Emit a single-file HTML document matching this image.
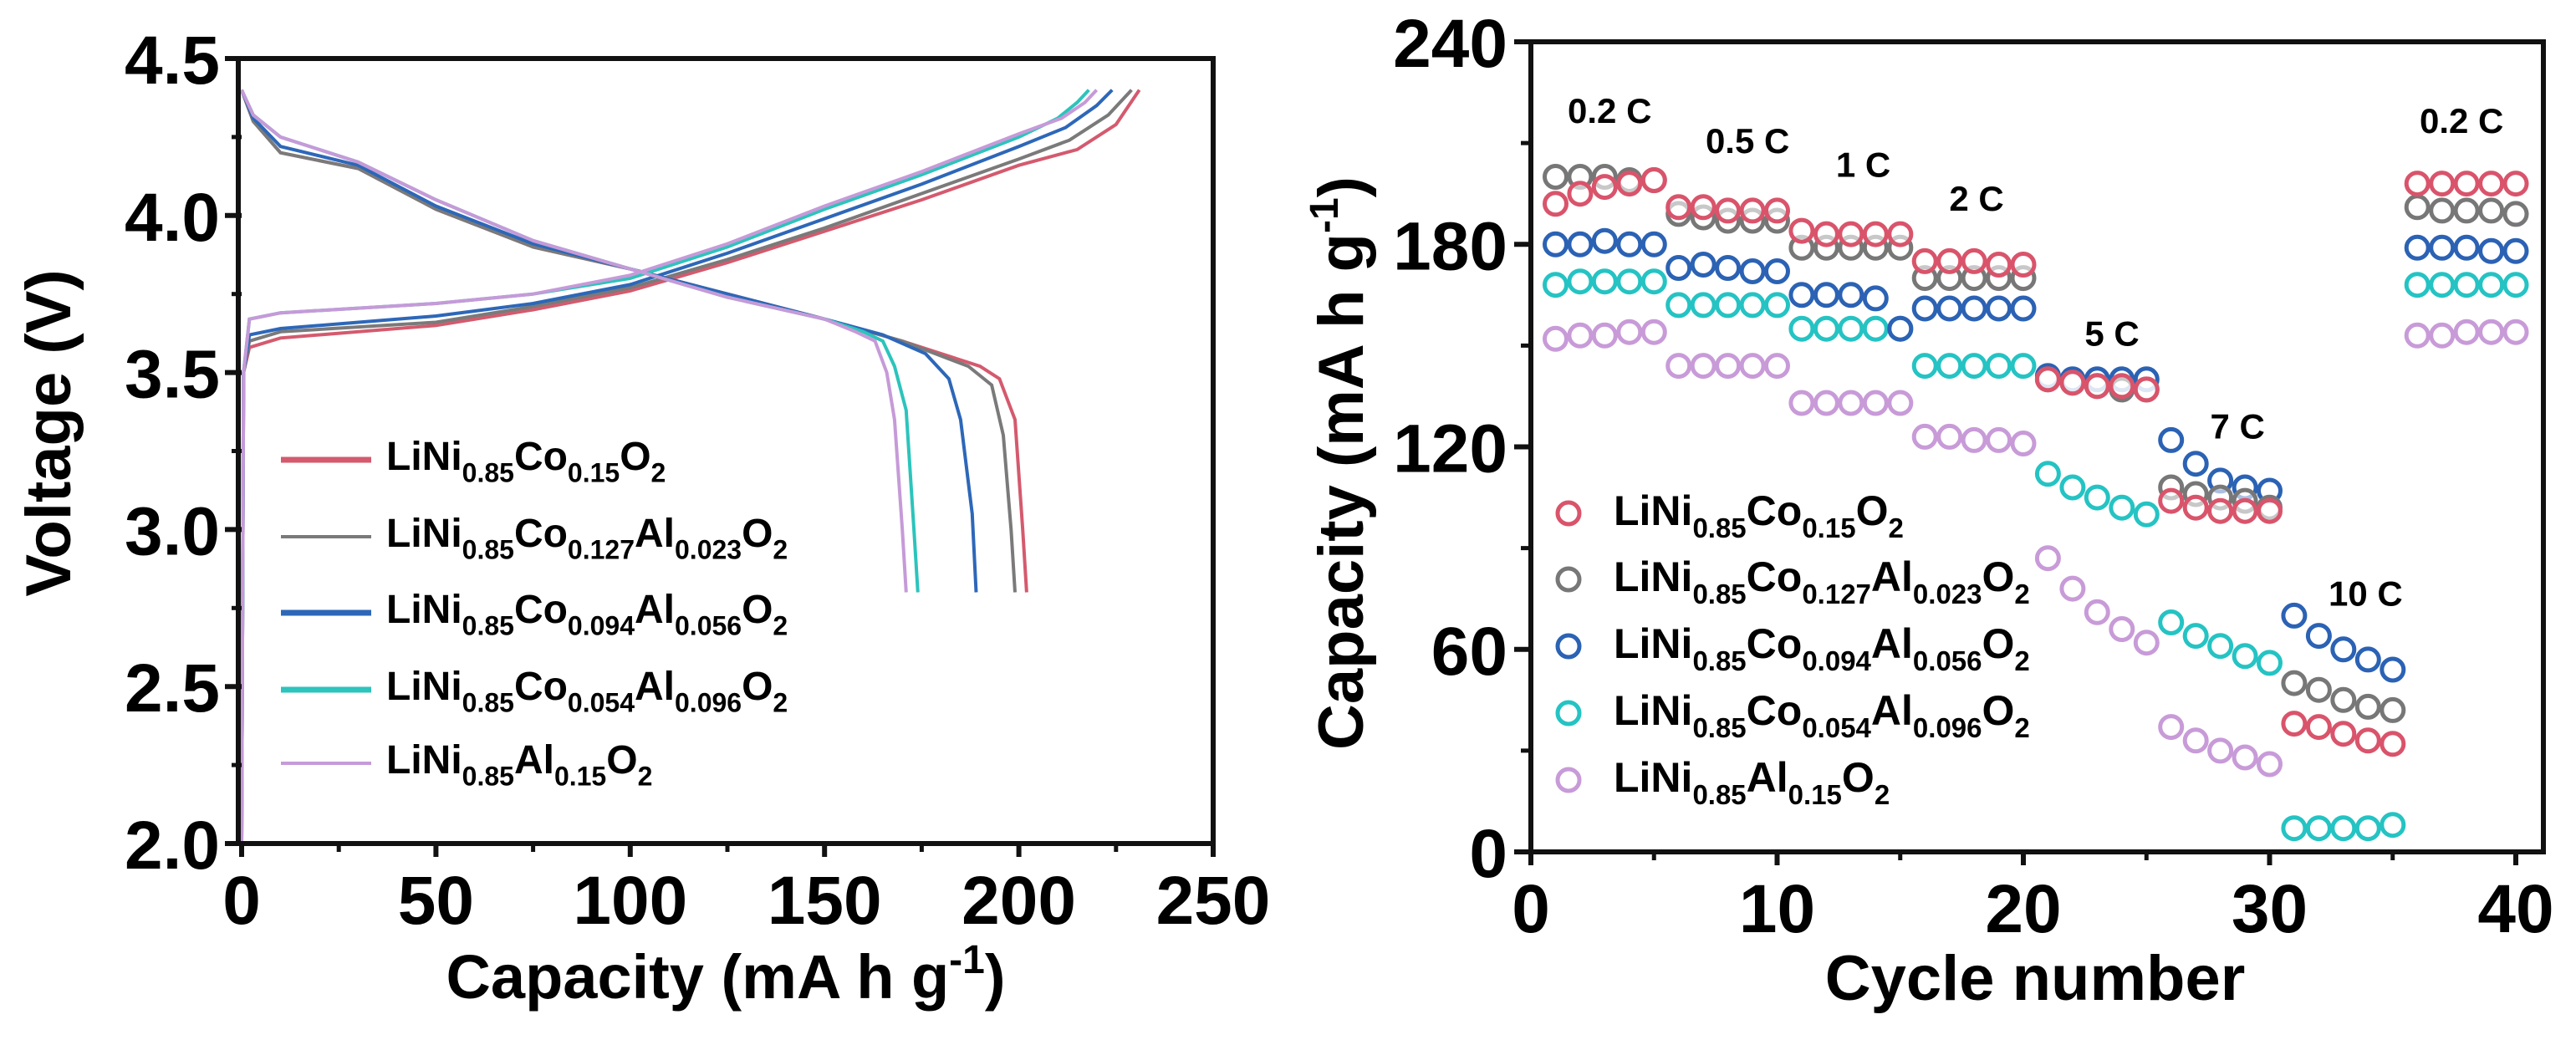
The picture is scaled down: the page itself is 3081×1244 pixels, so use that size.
<!DOCTYPE html>
<html><head><meta charset="utf-8"><style>
html,body{margin:0;padding:0;background:#fff;}
svg{display:block;font-family:"Liberation Sans",Arial,sans-serif;font-weight:bold;}
</style></head><body>
<svg id="fig" width="3081" height="1244" viewBox="0 0 3081 1244" xmlns="http://www.w3.org/2000/svg">
<g id="left"></g>
<g id="right"></g>
</svg>
<script>
// ---------- data: left chart ----------
const seriesNames = ["LiNi0.85Co0.15O2","LiNi0.85Co0.127Al0.023O2","LiNi0.85Co0.094Al0.056O2","LiNi0.85Co0.054Al0.096O2","LiNi0.85Al0.15O2"];
const lineColors = ["#d45a6e","#7a7a7a","#2d67b8","#2cc4bc","#c69ad8"];
const chargeCap = [
 [0,0.5,2,10,50,75,100,125,150,175,200,215,225,231],
 [0,0.5,2,10,50,75,100,125,150,175,200,213,223,229],
 [0,0.5,2,10,50,75,100,125,150,175,200,212,220,224],
 [0,0.5,2,10,50,75,100,125,150,175,200,210,215,218],
 [0,0.5,2,10,50,75,100,125,150,175,200,211,217,220]];
const chargeV = [
 [2.0,3.5,3.58,3.61,3.65,3.7,3.76,3.85,3.95,4.05,4.16,4.21,4.29,4.4],
 [2.0,3.5,3.6,3.63,3.66,3.71,3.77,3.86,3.96,4.07,4.18,4.24,4.32,4.4],
 [2.0,3.5,3.62,3.64,3.68,3.72,3.78,3.88,3.99,4.1,4.22,4.28,4.35,4.4],
 [2.0,3.5,3.67,3.69,3.72,3.75,3.8,3.9,4.02,4.13,4.25,4.31,4.36,4.4],
 [2.0,3.5,3.67,3.69,3.72,3.75,3.81,3.91,4.03,4.14,4.26,4.31,4.36,4.4]];
const dischargeCap = [
 [0,3,10,30,50,75,100,125,150,170,190,195,199,201,202],
 [0,3,10,30,50,75,100,125,150,170,187,193,196,198,199],
 [0,3,10,30,50,75,100,125,150,165,176,182,185,188,189],
 [0,3,10,30,50,75,100,125,150,160,165,168,171,173,174],
 [0,3,10,30,50,75,100,125,150,158,163,166,168,170,171]];
const dischargeV = [
 [4.4,4.3,4.2,4.15,4.02,3.9,3.83,3.75,3.67,3.6,3.52,3.48,3.35,3.0,2.8],
 [4.4,4.3,4.2,4.15,4.02,3.9,3.83,3.75,3.67,3.6,3.52,3.46,3.3,3.0,2.8],
 [4.4,4.31,4.22,4.16,4.03,3.91,3.83,3.75,3.67,3.62,3.56,3.48,3.35,3.05,2.8],
 [4.4,4.32,4.25,4.17,4.05,3.92,3.83,3.74,3.67,3.63,3.6,3.52,3.38,3.0,2.8],
 [4.4,4.32,4.25,4.17,4.05,3.92,3.83,3.74,3.67,3.63,3.6,3.5,3.35,3.0,2.8]];
const leftXTicks = [0,50,100,150,200,250];
const leftYTicks = [2.0,2.5,3.0,3.5,4.0,4.5];

// ---------- data: right chart ----------
const cycles = [];
for (let c = 1; c <= 40; c++) cycles.push(c);
const capRed = [192,195,197,198,199,191,191,190,190,190,184,183,183,183,183,175,175,175,174,174,140,139,138,138,137,104,102,101,101,101,38,37,35,33,32,198,198,198,198,198];
const capGray = [200,200,200,199,199,189,188,187,187,187,179,179,179,179,179,170,170,170,170,170,140,139,138,137,137,108,106,105,104,102,50,48,45,43,42,191,190,190,190,189];
const capBlue = [180,180,181,180,180,173,174,173,172,172,165,165,165,164,155,161,161,161,161,161,141,140,140,140,140,122,115,110,108,107,70,64,60,57,54,179,179,179,178,178];
const capTeal = [168,169,169,169,169,162,162,162,162,162,155,155,155,155,155,144,144,144,144,144,112,108,105,102,100,68,64,61,58,56,7,7,7,7,8,168,168,168,168,168];
const capPurple = [152,153,153,154,154,144,144,144,144,144,133,133,133,133,133,123,123,122,122,121,87,78,71,66,62,37,33,30,28,26,null,null,null,null,null,153,153,154,154,154];
const rightXTicks = [0,10,20,30,40];
const rightYTicks = [0,60,120,180,240];
const rateLabels = ["0.2 C","0.5 C","1 C","2 C","5 C","7 C","10 C","0.2 C"];
const rateLabelCycle = [3.2,8.8,13.5,18.1,23.6,28.7,33.9,37.8];
const rateLabelCap = [216,207,200,190,150,122.5,73,213];
const markerColors = ["#d9546b","#777777","#2b62b4","#25c3c3","#c89bd8"];

const NS = "http://www.w3.org/2000/svg";
function mk(tag, attrs, parent){ const e=document.createElementNS(NS,tag); for(const k in attrs) e.setAttribute(k,attrs[k]); parent.appendChild(e); return e; }

function formula(parent, name, x, y, size, sub){
  const t = mk("text",{x:x,y:y,"font-size":size},parent);
  
  
  const parts = name.match(/[A-Za-z]+|[0-9.]+/g);
  let lowered=false;
  parts.forEach(p=>{
    const ts=document.createElementNS(NS,"tspan");
    if(/^[0-9.]/.test(p)){ ts.setAttribute("font-size",sub); if(!lowered){ts.setAttribute("dy",size*0.3);lowered=true;} }
    else { if(lowered){ts.setAttribute("dy",-size*0.3);lowered=false;} }
    ts.textContent=p; t.appendChild(ts);
  });
  return t;
}

// ---------- left chart ----------
(function(){
  const g=document.getElementById("left");
  const X0=289,X1=1451,Y0=1009,Y1=70;
  const xs=v=>X0+(v-0)/250*(X1-X0);
  const ys=v=>Y0-(v-2)/2.5*(Y0-Y1);
  for(let i=0;i<5;i++){
    const pc=chargeCap[i].map((c,j)=>xs(c).toFixed(1)+","+ys(chargeV[i][j]).toFixed(1)).join(" ");
    const l1=mk("polyline",{points:pc,fill:"none",stroke:lineColors[i],"stroke-width":4},g);
    
    
    const pd=dischargeCap[i].map((c,j)=>xs(c).toFixed(1)+","+ys(dischargeV[i][j]).toFixed(1)).join(" ");
    const l2=mk("polyline",{points:pd,fill:"none",stroke:lineColors[i],"stroke-width":4},g);
    
    
  }
  const fr=mk("rect",{x:X0-4,y:Y1,width:X1-X0+4,height:Y0-Y1,fill:"none",stroke:"#111","stroke-width":6},g);
  
  
  leftXTicks.forEach(v=>{
    mk("line",{x1:xs(v),x2:xs(v),y1:Y0,y2:Y0+16,stroke:"#111","stroke-width":6},g);
    if(v<250) mk("line",{x1:xs(v+25),x2:xs(v+25),y1:Y0,y2:Y0+10,stroke:"#111","stroke-width":5},g);
    const t=mk("text",{x:xs(v),y:Y0+96,"font-size":82,"text-anchor":"middle"},g);
    
    
    t.textContent=v;
  });
  leftYTicks.forEach(v=>{
    mk("line",{x1:X0-20,x2:X0,y1:ys(v),y2:ys(v),stroke:"#111","stroke-width":6},g);
    if(v<4.5) mk("line",{x1:X0-12,x2:X0,y1:ys(v+0.25),y2:ys(v+0.25),stroke:"#111","stroke-width":5},g);
    const t=mk("text",{x:X0-26,y:ys(v)+30,"font-size":82,"text-anchor":"end"},g);
    
    
    t.textContent=v.toFixed(1);
  });
  const xt=mk("text",{x:868,y:1194,"font-size":74,"text-anchor":"middle"},g);
  
  
  xt.innerHTML='Capacity (mA h g<tspan font-size="48" dy="-30">-1</tspan><tspan dy="30">)</tspan>';
  const yt=mk("text",{x:0,y:0,"font-size":76,"text-anchor":"middle",transform:"translate(84,518) rotate(-90)"},g);
  
  
  yt.textContent="Voltage (V)";
  const ly=[562,654,745,837,925];
  for(let i=0;i<5;i++){
    const l=mk("line",{x1:336,x2:444,y1:ly[i]-12,y2:ly[i]-12,stroke:lineColors[i],"stroke-width":i===0||i===2||i===3?7:4},g);
    
    
    formula(g,seriesNames[i],462,ly[i],48,32);
  }
})();

// ---------- right chart ----------
(function(){
  const g=document.getElementById("right");
  const X0=1831,Y0=1019,Y1=50;
  const xs=v=>X0+v/40*(3009-X0);
  const ys=v=>Y0-v/240*(Y0-Y1);
  const X1=3042;
  const all=[capRed,capGray,capBlue,capTeal,capPurple];
  for(let s=4;s>=0;s--){
    all[s].forEach((v,j)=>{
      if(v===null) return;
      const c=mk("circle",{cx:xs(cycles[j]).toFixed(1),cy:ys(v).toFixed(1),r:13,fill:"#fff","fill-opacity":0.6,stroke:markerColors[s],"stroke-width":5},g);
      
      
    });
  }
  const fr=mk("rect",{x:X0,y:Y1,width:X1-X0,height:Y0-Y1,fill:"none",stroke:"#111","stroke-width":6},g);
  
  
  rightXTicks.forEach(v=>{
    mk("line",{x1:xs(v),x2:xs(v),y1:Y0,y2:Y0+16,stroke:"#111","stroke-width":6},g);
    if(v<40) mk("line",{x1:xs(v+5),x2:xs(v+5),y1:Y0,y2:Y0+10,stroke:"#111","stroke-width":5},g);
    const t=mk("text",{x:xs(v),y:Y0+96,"font-size":82,"text-anchor":"middle"},g);
    
    
    t.textContent=v;
  });
  rightYTicks.forEach(v=>{
    mk("line",{x1:X0-20,x2:X0,y1:ys(v),y2:ys(v),stroke:"#111","stroke-width":6},g);
    if(v<240) mk("line",{x1:X0-12,x2:X0,y1:ys(v+30),y2:ys(v+30),stroke:"#111","stroke-width":5},g);
    const t=mk("text",{x:X0-28,y:ys(v)+30,"font-size":82,"text-anchor":"end"},g);
    
    
    t.textContent=v;
  });
  rateLabels.forEach((s,i)=>{
    const t=mk("text",{x:xs(rateLabelCycle[i]),y:ys(rateLabelCap[i]),"font-size":42,"text-anchor":"middle"},g);
    
    
    t.textContent=s;
  });
  const xt=mk("text",{x:2434,y:1196,"font-size":76,"text-anchor":"middle"},g);
  
  
  xt.textContent="Cycle number";
  const yt=mk("text",{x:0,y:0,"font-size":76,"text-anchor":"middle",transform:"translate(1630,554) rotate(-90)"},g);
  
  
  yt.innerHTML='Capacity (mA h g<tspan font-size="48" dy="-30">-1</tspan><tspan dy="30">)</tspan>';
  const ly=[628,707,787,867,947];
  for(let i=0;i<5;i++){
    const c=mk("circle",{cx:1876,cy:ly[i]-14,r:13,fill:"#fff",stroke:markerColors[i],"stroke-width":5},g);
    
    
    formula(g,seriesNames[i],1930,ly[i],50,33);
  }
})();
</script>
</body></html>
